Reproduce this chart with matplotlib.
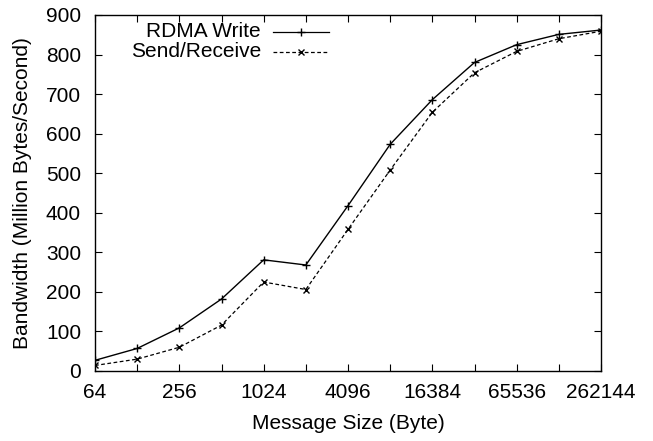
import numpy as np
import matplotlib
matplotlib.use("Agg")
import matplotlib.pyplot as plt
from matplotlib.ticker import FixedLocator, NullFormatter

plt.rcParams['font.family'] = ['Liberation Sans', 'DejaVu Sans']

# message sizes (bytes)
sizes = [64, 128, 256, 512, 1024, 2048, 4096, 8192, 16384, 32768, 65536, 131072, 262144]
# bandwidth, million bytes / second
rdma_write = [27, 57, 109, 182, 281, 268, 418, 573, 686, 780, 825, 851, 862]
send_recv = [14, 30, 60, 116, 225, 206, 358, 508, 654, 754, 808, 840, 859]

major_ticks = [64, 256, 1024, 4096, 16384, 65536, 262144]
minor_ticks = [128, 512, 2048, 8192, 32768, 131072]
y_ticks = [0, 100, 200, 300, 400, 500, 600, 700, 800, 900]

FS = 15

fig = plt.figure(figsize=(6.53, 4.41), dpi=100)
ax = fig.add_axes([95 / 653, 1 - 371 / 441, 506 / 653, 356 / 441])

ax.plot(sizes, rdma_write, color='black', lw=1.0, marker='+', ms=6, mew=1.0)
ax.plot(sizes, send_recv, color='black', lw=0.9, marker='x', ms=5, mew=1.0,
        linestyle=(0, (3, 2)))

ax.set_xscale('log', base=2)
ax.set_xlim(64, 262144)
ax.set_ylim(0, 900)
ax.xaxis.set_major_locator(FixedLocator(major_ticks))
ax.xaxis.set_minor_locator(FixedLocator(minor_ticks))
ax.set_xticklabels([str(t) for t in major_ticks])
ax.xaxis.set_minor_formatter(NullFormatter())
ax.set_yticks(y_ticks)

ax.tick_params(which='both', direction='in', top=True, right=True,
               length=5, width=0.8, labelsize=FS)
ax.tick_params(axis='y', pad=10)
ax.tick_params(axis='x', pad=9)
for s in ax.spines.values():
    s.set_linewidth(1.0)

ax.set_xlabel('Message Size (Byte)', fontsize=FS, labelpad=8)
ax.set_ylabel('Bandwidth (Million Bytes/Second)', fontsize=FS, labelpad=10)

# gnuplot-style key: labels right-aligned, sample line after the text
key_rows = [('RDMA Write', '-', '+', 6, 0.953), ('Send/Receive', (0, (3, 2)), 'x', 5, 0.897)]
for label, ls, mk, ms, y in key_rows:
    ax.text(0.328, y, label, transform=ax.transAxes, ha='right', va='center', fontsize=FS)
    ax.plot([0.352, 0.462], [y, y], transform=ax.transAxes, color='black', lw=0.9, ls=ls)
    ax.plot([0.407], [y], transform=ax.transAxes, color='black', marker=mk, ms=ms, mew=1.0)

fig.savefig('out.png', dpi=100)
